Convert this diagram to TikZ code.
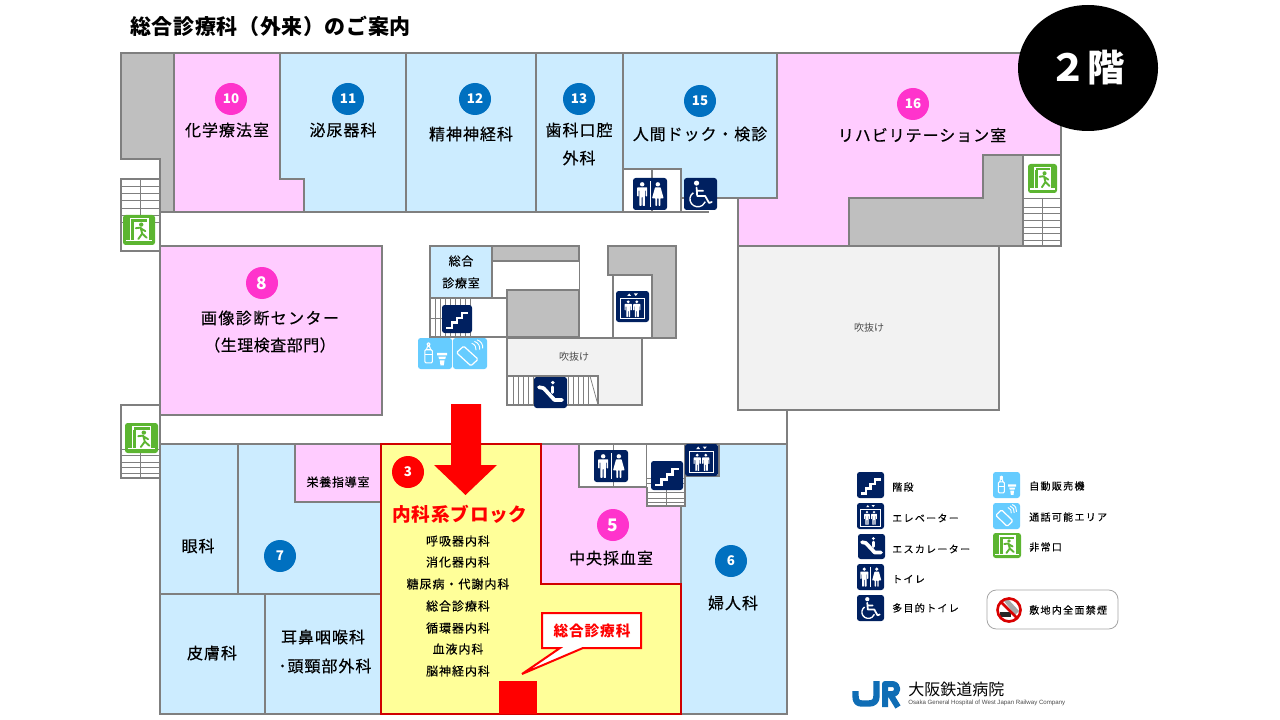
\documentclass[tikz,border=0pt]{standalone}
\usepackage{fontspec}
\setmainfont{Noto Sans CJK JP}
\newfontfamily\enfont{Liberation Sans}
\definecolor{wall}{HTML}{7F7F7F}
\definecolor{rpink}{HTML}{FFCCFF}
\definecolor{rblue}{HTML}{CCECFF}
\definecolor{ryel}{HTML}{FFFF99}
\definecolor{rgray}{HTML}{BFBFBF}
\definecolor{ratr}{HTML}{F2F2F2}
\definecolor{bpink}{HTML}{FF33CC}
\definecolor{bblue}{HTML}{0070C0}
\definecolor{navy}{HTML}{002060}
\definecolor{sky}{HTML}{66CCFF}
\definecolor{egreen}{HTML}{5CB531}
\definecolor{dkred}{HTML}{D00000}
\definecolor{jrblue}{HTML}{0F6DB5}
\tikzset{
  wl/.style={draw=wall,line width=1.4pt,line join=miter},
  thn/.style={draw=wall,line width=0.85pt},
  hair/.style={draw=wall,line width=0.55pt},
  lbl/.style={inner sep=0pt,font=\fontsize{12}{14}\selectfont\addfontfeature{LetterSpace=6,FakeBold=0.35}},
  sml/.style={inner sep=0pt,font=\fontsize{9}{11}\selectfont\addfontfeature{LetterSpace=6,FakeBold=0.2}},
  lst/.style={inner sep=0pt,font=\fontsize{9}{11}\selectfont\addfontfeature{LetterSpace=8,FakeBold=0.2}},
  leg/.style={inner sep=0pt,anchor=west,font=\fontsize{7.5}{9}\selectfont\addfontfeature{LetterSpace=13,FakeBold=0.2}},
  atr/.style={inner sep=0pt,text=black!70,font=\fontsize{7.5}{9}\selectfont},
  badge/.style={circle,minimum size=24pt,inner sep=0pt,text=white,font=\fontsize{10}{12}\selectfont\bfseries},
  pb/.style={badge,fill=bpink},
  bb/.style={badge,fill=bblue},
}
% icon scope: x0 y0 x1 y1, body in 0..100
\newcommand{\iconat}[5]{\begin{scope}[shift={(#1,#2)},xscale={(#3-#1)/100},yscale={(#4-#2)/100}]#5\end{scope}}
\newcommand{\manfig}[3]{\begin{scope}[shift={(#1,#2)},scale=#3]
  \fill (0,9) circle (9);
  \fill[rounded corners=0.4pt] (-20,22)--(20,22)--(20,60)--(14,60)--(14,34)--(11,34)--(11,100)--(2,100)--(2,62)--(-2,62)--(-2,100)--(-11,100)--(-11,34)--(-14,34)--(-14,60)--(-20,60)--cycle;
\end{scope}}
\newcommand{\womanfig}[3]{\begin{scope}[shift={(#1,#2)},scale=#3]
  \fill (0,9) circle (9);
  \fill[rounded corners=0.4pt] (-11,22)--(11,22)--(23,68)--(10,68)--(10,100)--(3,100)--(3,68)--(-3,68)--(-3,100)--(-10,100)--(-10,68)--(-23,68)--cycle;
\end{scope}}
\newcommand{\istairs}[4]{\iconat{#1}{#2}{#3}{#4}{
  \fill[navy,rounded corners=2pt] (0,0) rectangle (100,100);
  \draw[white,line width=1.9pt] (14,82)--(33,82)--(33,63)--(50,63)--(50,46)--(67,46)--(67,28)--(88,28);}}
\newcommand{\itoilet}[4]{\iconat{#1}{#2}{#3}{#4}{
  \fill[navy,rounded corners=2pt] (0,0) rectangle (100,100);
  \draw[white,line width=0.6pt] (50,10)--(50,90);
  \begin{scope}[white]\manfig{27}{13}{0.74}\womanfig{73}{13}{0.74}\end{scope}}}
\newcommand{\ielev}[4]{\iconat{#1}{#2}{#3}{#4}{
  \fill[navy,rounded corners=2pt] (0,0) rectangle (100,100);
  \draw[white,line width=0.8pt] (13,24) rectangle (87,90);
  \fill[white] (34,16)--(40,8)--(46,16)--cycle (54,8)--(66,8)--(60,16)--cycle;
  \begin{scope}[white]\manfig{37}{30}{0.54}\manfig{63}{30}{0.54}\end{scope}}}
\newcommand{\iescal}[4]{\iconat{#1}{#2}{#3}{#4}{
  \fill[navy,rounded corners=2pt] (0,0) rectangle (100,100);
  \draw[white,line width=2.8pt,line cap=round,line join=round] (15,33)--(29,36)--(62,74)--(85,74);
  \fill[white] (57,18) circle (6);
  \draw[white,line width=2pt,line cap=round] (57,32)--(57,50);}}
\newcommand{\iaccess}[4]{\iconat{#1}{#2}{#3}{#4}{
  \fill[navy,rounded corners=2pt] (0,0) rectangle (100,100);
  \fill[white] (38,16) circle (8);
  \draw[white,line width=1.3pt,line cap=round,line join=round] (38,30)--(40,56)--(64,56)--(76,78)--(84,75) (40,40)--(58,40);
  \draw[white,line width=1pt] (28.2,46.3) arc[start angle=-125,end angle=-340,radius=24];}}
\newcommand{\idrink}[4]{\iconat{#1}{#2}{#3}{#4}{
  \fill[sky,rounded corners=2pt] (0,0) rectangle (100,100);
  \draw[white,line width=0.8pt,rounded corners=0.8pt] (20,80) rectangle (42,38) (25,38)--(28,26)--(34,26)--(37,38) (27,16) rectangle (35,24);
  \draw[white,line width=0.8pt] (20,54)--(42,54);
  \fill[white] (56,48)--(86,48)--(86,56)--(56,56)--cycle (60,60)--(82,60)--(80,68)--(62,68)--cycle;
  \fill[white] (64,72)--(78,72)--(76,88)--(66,88)--cycle;}}
\newcommand{\iphone}[4]{\iconat{#1}{#2}{#3}{#4}{
  \fill[sky,rounded corners=2pt] (0,0) rectangle (100,100);
  \begin{scope}[shift={(42,58)},rotate=45]
    \draw[white,line width=0.9pt,rounded corners=1pt] (-15,-30) rectangle (15,30);
  \end{scope}
  \draw[white,line width=0.7pt] (55,17) arc[start angle=-70,end angle=10,radius=20]
     (63,11) arc[start angle=-70,end angle=10,radius=24]
     (71,6) arc[start angle=-70,end angle=10,radius=25];}}
\newcommand{\iexit}[4]{\iconat{#1}{#2}{#3}{#4}{
  \fill[egreen,rounded corners=2pt] (0,0) rectangle (100,100);
  \draw[white,line width=1pt] (24,82)--(24,12)--(78,12)--(78,82);
  \draw[white,line width=1pt] (8,86)--(92,86);
  \fill[white] (32,22) rectangle (78,82);
  \fill[egreen] (34,22)--(34,82)--(24,82)--(24,22)--cycle;
  \fill[egreen] (57,32) circle (7);
  \draw[egreen,line width=1.4pt,line cap=round,line join=round] (40,44)--(55,42)--(60,62)--(48,80) (60,62)--(74,76) (55,44)--(70,54);}}
\begin{document}
\begin{tikzpicture}[x=0.75pt,y=-0.75pt]
\useasboundingbox (0,0) rectangle (1280,720);
\fill[white] (0,0) rectangle (1280,720);
% ---- coloured areas
\path[wl,fill=rgray] (121,53)--(174,53)--(174,212)--(160,212)--(160,159)--(121,159)--cycle;
\path[wl,fill=rpink] (174,53)--(280,53)--(280,179)--(304,179)--(304,212)--(174,212)--cycle;
\path[wl,fill=rblue] (280,53)--(406,53)--(406,212)--(304,212)--(304,179)--(280,179)--cycle;
\path[wl,fill=rblue] (406,53) rectangle (536,212);
\path[wl,fill=rblue] (536,53) rectangle (623,212);
\path[wl,fill=rblue] (623,53)--(777,53)--(777,198)--(681,198)--(681,169)--(623,169)--cycle;
\path[wl,fill=rpink] (777,53)--(1061,53)--(1061,155)--(983,155)--(983,198)--(849,198)--(849,246)--(738,246)--(738,198)--(777,198)--cycle;
\path[wl,fill=rgray] (983,155)--(1023,155)--(1023,246)--(849,246)--(849,198)--(983,198)--cycle;
\path[wl] (1023,155)--(1061,155)--(1061,246)--(1023,246);
\foreach \yy in {198,207,213,220,227,233,240} \draw[hair] (1023,\yy)--(1061,\yy);
\draw[hair] (1042,198)--(1042,246);
% WC alcove
\path[thn] (623,169)--(623,212)--(709,212) (681,169)--(681,212) (652,169)--(652,212);
% left stairs (top)
\foreach \yy in {186,193,200,208,215,222} \draw[hair] (121,\yy)--(160,\yy);
\draw[hair] (140,179)--(140,222);
\path[wl] (160,179)--(121,179)--(121,251)--(160,251);
\path[wl] (160,159)--(160,251);
% left stairs (bottom)
\foreach \yy in {449,455,462,467,473} \draw[hair] (121,\yy)--(160,\yy);
\draw[hair] (140,453)--(140,478);
\path[wl] (160,405)--(121,405)--(121,478)--(160,478);
\path[wl] (160,405)--(160,445);
% room 8
\path[wl,fill=rpink] (160,246) rectangle (382,415);
% big atrium
\path[wl,fill=ratr] (738,246) rectangle (999,410);
% centre block
\path[wl,fill=rgray] (492,246) rectangle (579,261);
\path[hair] (579,261)--(579,290);
\path[wl,fill=rblue] (430,246) rectangle (492,298);
\foreach \xx in {435,440,...,470} \draw[hair] (\xx,298)--(\xx,337);
\draw[hair] (430,318)--(445,318);
\path[wl] (492,298)--(507,298) (430,298)--(430,337)--(507,337);
\path[wl,fill=rgray] (507,290) rectangle (579,337);
\path[wl,fill=ratr] (507,338) rectangle (642,405);
\path[thn,fill=white] (507,376)--(598,376)--(598,405)--(507,405);
\foreach \xx in {513,518,...,588} \draw[hair] (\xx,376)--(\xx,405);
\draw[hair] (590,376)--(598,405);
\path[wl] (507,338)--(642,338)--(642,405)--(507,405)--cycle;
% elevator shaft
\path[wl,fill=rgray] (608,246)--(676,246)--(676,338)--(652,338)--(652,275)--(608,275)--cycle;
\path[wl] (613,275)--(613,338)--(652,338);
% bottom block
\path[wl] (738,410)--(787,410)--(787,714);
\path[wl,fill=rblue] (160,444) rectangle (381,714);
\path[wl,fill=rblue] (681,444)--(787,444)--(787,714)--(681,714)--cycle;
\path[thn] (238,444)--(238,594) (160,594)--(381,594) (265,594)--(265,714);
\path[wl,fill=rpink] (295,444) rectangle (381,502);
\path[wl,fill=rpink,draw=none] (541,444)--(579,444)--(579,487)--(647,487)--(647,506)--(681,506)--(681,584)--(541,584)--cycle;
\path[wl,fill=white] (579,444) rectangle (647,487);
\draw[hair] (613,444)--(613,487);
\fill[white] (647,444) rectangle (685,506);
\foreach \yy in {478,483,492,498,502} \draw[hair] (647,\yy)--(685,\yy);
\draw[hair] (666,470)--(666,506);
\path[wl] (647,487)--(647,506)--(685,506)--(685,444);
\path[wl] (541,444)--(787,444);
\path[wl] (685,476)--(719,476)--(719,444);
\fill[white] (686,445) rectangle (718,475);
\path[thn] (681,506)--(681,584);
% yellow block
\path[draw=dkred,line width=1.5pt,fill=ryel,line join=miter] (381,444)--(541,444)--(541,584)--(681,584)--(681,714)--(381,714)--cycle;
% red marks
\fill[red] (499,681) rectangle (537,714);
\fill[red] (451,404)--(481,404)--(481,465)--(497,465)--(465.5,495)--(434,465)--(451,465)--cycle;
\path[draw=red,line width=1.5pt,fill=white,line join=miter] (542,613)--(641,613)--(641,648)--(583,648)--(522,674)--(560,648)--(542,648)--cycle;
% black circle
\fill[black] (1088,68) ellipse (70 and 63);
% ---- icons
\itoilet{633}{178}{667}{210}
\iaccess{684}{178}{717}{210}
\iexit{1028}{164}{1057}{193}
\iexit{123}{215}{155}{245}
\iexit{125}{423}{158}{453}
\istairs{442}{305}{472}{333}
\ielev{616}{291}{649}{322}
\idrink{418}{338}{452}{369}
\iphone{453}{338}{487}{369}
\iescal{534}{377}{567}{408}
\itoilet{594}{450}{628}{482}
\istairs{651}{461}{683}{490}
\ielev{685}{444}{718}{476}
% legend
\istairs{857}{472}{884}{498}
\ielev{857}{503}{884}{529}
\iescal{858}{534}{885}{559}
\itoilet{857}{564}{884}{590}
\iaccess{857}{595}{884}{621}
\idrink{993}{472}{1020}{498}
\iphone{993}{503}{1020}{529}
\iexit{993}{533}{1021}{558}
\path[draw=black!35,line width=0.6pt,rounded corners=7pt,fill=white] (987,590) rectangle (1118,629);
\fill[white] (1009,610) circle (12);
\fill[black!35] (1004,601)--(1008,599)--(1019,611)--(1015,615)--cycle;
\fill[black!85] (1000,612) rectangle (1011,617);
\draw[red!85!black,line width=2pt] (1009,610) circle (11.5);
\draw[red!85!black,line width=2pt] (1001,602)--(1017,618);
% logo
\draw[jrblue,line width=4.8pt,line join=round] (855.5,691)--(855.5,696) .. controls (855.5,702) and (858,703.5) .. (862,703.5)--(869,703.5) .. controls (874,703.5) and (876.5,701) .. (876.5,696)--(876.5,681);
\draw[jrblue,line width=4.5pt,line join=round] (885,707)--(885,684)--(892,684) .. controls (899,684) and (899,694) .. (892,694)--(885,694) (890,694)--(898,707);
% ---- texts
\node[inner sep=0pt,anchor=west,font=\fontsize{15.75}{18}\selectfont\bfseries\addfontfeature{LetterSpace=3}] (title) at (130,26) {総合診療科（外来）のご案内};
\node[inner sep=0pt,text=white,font=\fontsize{28}{32}\selectfont\bfseries] (floor) at (1087,68) {２階};
\node[pb] (b10) at (231,99) {10};
\node[bb] (b11) at (348,99) {11};
\node[bb] (b12) at (475,99) {12};
\node[bb] (b13) at (579,99) {13};
\node[bb] (b15) at (700,101) {15};
\node[pb] (b16) at (913,104) {16};
\node[pb,font=\fontsize{13}{15}\selectfont\bfseries] (b8) at (262,283) {8};
\node[badge,fill=red] (b3) at (408,472) {3};
\node[pb,font=\fontsize{13}{15}\selectfont\bfseries] (b5) at (613,525) {5};
\node[bb] (b6) at (731,561) {6};
\node[bb] (b7) at (280,556) {7};
\node[lbl] (t10) at (227,130) {化学療法室};
\node[lbl] (t11) at (343,130) {泌尿器科};
\node[lbl] (t12) at (471,134) {精神神経科};
\node[lbl] (t13a) at (579,130) {歯科口腔};
\node[lbl] (t13b) at (579,158) {外科};
\node[lbl] (t15) at (700,134) {人間ドック・検診};
\node[lbl] (t16) at (922,135) {リハビリテーション室};
\node[lbl,font=\fontsize{12}{14}\selectfont\addfontfeature{LetterSpace=9,FakeBold=0.35}] (t8a) at (270,318) {画像診断センター};
\node[lbl,font=\fontsize{12}{14}\selectfont\addfontfeature{LetterSpace=3,FakeBold=0.35}] (t8b) at (270,345) {（生理検査部門）};
\node[sml] (tsa) at (461,261) {総合};
\node[sml] (tsb) at (461,283) {診療室};
\node[sml] (teiyo) at (338,482) {栄養指導室};
\node[lbl] (tg) at (198,546) {眼科};
\node[lbl] (thi) at (212,653) {皮膚科};
\node[lbl] (tja) at (323,637) {耳鼻咽喉科};
\node[lbl] (tjb) at (325,666) {･頭頸部外科};
\node[lbl] (t5) at (611,558) {中央採血室};
\node[lbl] (t6) at (733,603) {婦人科};
\node[atr] (ta1) at (869,328) {吹抜け};
\node[atr] (ta2) at (574,357) {吹抜け};
\node[inner sep=0pt,text=red,font=\fontsize{14}{17}\selectfont\bfseries\addfontfeature{LetterSpace=4}] (tnaika) at (460,514) {内科系ブロック};
\node[lst] (n1) at (458,541) {呼吸器内科};
\node[lst] (n2) at (458,562) {消化器内科};
\node[lst] (n3) at (458,584) {糖尿病・代謝内科};
\node[lst] (n4) at (458,606) {総合診療科};
\node[lst] (n5) at (458,628) {循環器内科};
\node[lst] (n6) at (458,649) {血液内科};
\node[lst] (n7) at (458,671) {脳神経内科};
\node[inner sep=0pt,text=red,font=\fontsize{11}{13}\selectfont\bfseries\addfontfeature{LetterSpace=6}] (tcall) at (592,631) {総合診療科};
\node[leg] (l1) at (892,487) {階段};
\node[leg] (l2) at (892,518) {エレベーター};
\node[leg] (l3) at (892,549) {エスカレーター};
\node[leg] (l4) at (892,579) {トイレ};
\node[leg] (l5) at (892,608) {多目的トイレ};
\node[leg] (l6) at (1029,486) {自動販売機};
\node[leg] (l7) at (1029,517) {通話可能エリア};
\node[leg] (l8) at (1029,547) {非常口};
\node[leg] (l9) at (1029,610) {敷地内全面禁煙};
\node[inner sep=0pt,anchor=west,font=\fontsize{12}{14}\selectfont] (hosp) at (908,689) {大阪鉄道病院};
\node[inner sep=0pt,anchor=west,text=black!70,font=\fontsize{4.6}{5}\selectfont\enfont] (hospen) at (908,703) {Osaka General Hospital of West Japan Railway Company};
\end{tikzpicture}
\end{document}
